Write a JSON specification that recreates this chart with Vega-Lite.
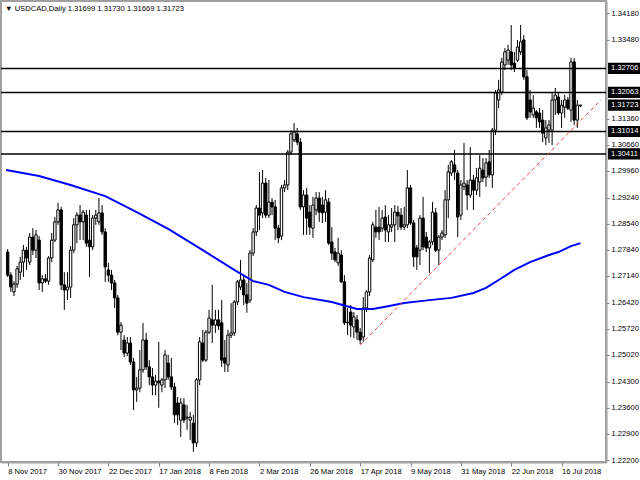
{
"$schema": "https://vega.github.io/schema/vega-lite/v6.json",
"width": 605, "height": 461,
"autosize": {"type": "none"},
"padding": {"left": 1, "top": 1, "right": 34, "bottom": 18},
"background": "white",
"title": {"text": "▼ USDCAD,Daily  1.31699 1.31730 1.31669 1.31723", "anchor": "start", "frame": "group", "orient": "top", "offset": -12, "fontSize": 7.6, "fontWeight": "normal", "font": "Liberation Sans", "color": "black", "dx": 4, "baseline": "top"},
"config": {"view": {"stroke": "#a0a0a0", "strokeWidth": 2}, "font": "Liberation Sans"},
"datasets": {
"candles": [
{"i":0,"o":1.2778,"h":1.2786,"l":1.2711,"c":1.2716},
{"i":1,"o":1.2716,"h":1.2724,"l":1.2671,"c":1.2684},
{"i":2,"o":1.2671,"h":1.2700,"l":1.2660,"c":1.2692},
{"i":3,"o":1.2692,"h":1.2741,"l":1.2682,"c":1.2733},
{"i":4,"o":1.2724,"h":1.2765,"l":1.2703,"c":1.2751},
{"i":5,"o":1.2751,"h":1.2797,"l":1.2711,"c":1.2783},
{"i":6,"o":1.2783,"h":1.2792,"l":1.2730,"c":1.2762},
{"i":7,"o":1.2751,"h":1.2829,"l":1.2743,"c":1.2818},
{"i":8,"o":1.2818,"h":1.2842,"l":1.2770,"c":1.2783},
{"i":9,"o":1.2783,"h":1.2837,"l":1.2762,"c":1.2824},
{"i":10,"o":1.2810,"h":1.2821,"l":1.2676,"c":1.2695},
{"i":11,"o":1.2695,"h":1.2716,"l":1.2671,"c":1.2706},
{"i":12,"o":1.2706,"h":1.2719,"l":1.2695,"c":1.2700},
{"i":13,"o":1.2700,"h":1.2767,"l":1.2690,"c":1.2762},
{"i":14,"o":1.2762,"h":1.2829,"l":1.2751,"c":1.2810},
{"i":15,"o":1.2810,"h":1.2872,"l":1.2805,"c":1.2859},
{"i":16,"o":1.2859,"h":1.2910,"l":1.2851,"c":1.2891},
{"i":17,"o":1.2891,"h":1.2899,"l":1.2676,"c":1.2690},
{"i":18,"o":1.2690,"h":1.2724,"l":1.2623,"c":1.2676},
{"i":19,"o":1.2676,"h":1.2724,"l":1.2649,"c":1.2684},
{"i":20,"o":1.2684,"h":1.2794,"l":1.2655,"c":1.2783},
{"i":21,"o":1.2783,"h":1.2869,"l":1.2775,"c":1.2851},
{"i":22,"o":1.2851,"h":1.2885,"l":1.2802,"c":1.2877},
{"i":23,"o":1.2877,"h":1.2904,"l":1.2810,"c":1.2859},
{"i":24,"o":1.2859,"h":1.2891,"l":1.2810,"c":1.2885},
{"i":25,"o":1.2877,"h":1.2891,"l":1.2792,"c":1.2802},
{"i":26,"o":1.2810,"h":1.2891,"l":1.2711,"c":1.2792},
{"i":27,"o":1.2792,"h":1.2877,"l":1.2783,"c":1.2869},
{"i":28,"o":1.2869,"h":1.2891,"l":1.2851,"c":1.2877},
{"i":29,"o":1.2859,"h":1.2923,"l":1.2851,"c":1.2883},
{"i":30,"o":1.2883,"h":1.2904,"l":1.2824,"c":1.2832},
{"i":31,"o":1.2832,"h":1.2842,"l":1.2698,"c":1.2738},
{"i":32,"o":1.2730,"h":1.2749,"l":1.2698,"c":1.2716},
{"i":33,"o":1.2716,"h":1.2730,"l":1.2676,"c":1.2695},
{"i":34,"o":1.2695,"h":1.2703,"l":1.2628,"c":1.2655},
{"i":35,"o":1.2655,"h":1.2663,"l":1.2555,"c":1.2563},
{"i":36,"o":1.2563,"h":1.2590,"l":1.2515,"c":1.2582},
{"i":37,"o":1.2542,"h":1.2555,"l":1.2496,"c":1.2507},
{"i":38,"o":1.2507,"h":1.2550,"l":1.2499,"c":1.2534},
{"i":39,"o":1.2534,"h":1.2550,"l":1.2475,"c":1.2483},
{"i":40,"o":1.2483,"h":1.2494,"l":1.2354,"c":1.2408},
{"i":41,"o":1.2408,"h":1.2443,"l":1.2376,"c":1.2413},
{"i":42,"o":1.2413,"h":1.2515,"l":1.2402,"c":1.2462},
{"i":43,"o":1.2462,"h":1.2588,"l":1.2454,"c":1.2542},
{"i":44,"o":1.2542,"h":1.2561,"l":1.2462,"c":1.2470},
{"i":45,"o":1.2470,"h":1.2488,"l":1.2421,"c":1.2443},
{"i":46,"o":1.2443,"h":1.2467,"l":1.2394,"c":1.2421},
{"i":47,"o":1.2421,"h":1.2448,"l":1.2394,"c":1.2432},
{"i":48,"o":1.2432,"h":1.2537,"l":1.2360,"c":1.2427},
{"i":49,"o":1.2421,"h":1.2440,"l":1.2402,"c":1.2435},
{"i":50,"o":1.2435,"h":1.2515,"l":1.2413,"c":1.2502},
{"i":51,"o":1.2480,"h":1.2502,"l":1.2435,"c":1.2443},
{"i":52,"o":1.2443,"h":1.2494,"l":1.2408,"c":1.2416},
{"i":53,"o":1.2416,"h":1.2427,"l":1.2319,"c":1.2341},
{"i":54,"o":1.2373,"h":1.2389,"l":1.2314,"c":1.2341},
{"i":55,"o":1.2327,"h":1.2386,"l":1.2282,"c":1.2373},
{"i":56,"o":1.2368,"h":1.2386,"l":1.2319,"c":1.2327},
{"i":57,"o":1.2333,"h":1.2368,"l":1.2301,"c":1.2335},
{"i":58,"o":1.2327,"h":1.2349,"l":1.2274,"c":1.2335},
{"i":59,"o":1.2319,"h":1.2341,"l":1.2242,"c":1.2266},
{"i":60,"o":1.2266,"h":1.2440,"l":1.2255,"c":1.2435},
{"i":61,"o":1.2435,"h":1.2550,"l":1.2421,"c":1.2537},
{"i":62,"o":1.2534,"h":1.2569,"l":1.2483,"c":1.2488},
{"i":63,"o":1.2488,"h":1.2569,"l":1.2483,"c":1.2563},
{"i":64,"o":1.2563,"h":1.2623,"l":1.2558,"c":1.2601},
{"i":65,"o":1.2596,"h":1.2690,"l":1.2534,"c":1.2582},
{"i":66,"o":1.2582,"h":1.2623,"l":1.2561,"c":1.2596},
{"i":67,"o":1.2596,"h":1.2623,"l":1.2569,"c":1.2580},
{"i":68,"o":1.2588,"h":1.2649,"l":1.2470,"c":1.2488},
{"i":69,"o":1.2494,"h":1.2542,"l":1.2456,"c":1.2480},
{"i":70,"o":1.2475,"h":1.2569,"l":1.2456,"c":1.2555},
{"i":71,"o":1.2555,"h":1.2641,"l":1.2547,"c":1.2561},
{"i":72,"o":1.2561,"h":1.2649,"l":1.2553,"c":1.2644},
{"i":73,"o":1.2644,"h":1.2703,"l":1.2636,"c":1.2698},
{"i":74,"o":1.2684,"h":1.2757,"l":1.2676,"c":1.2703},
{"i":75,"o":1.2703,"h":1.2714,"l":1.2636,"c":1.2663},
{"i":76,"o":1.2663,"h":1.2695,"l":1.2615,"c":1.2641},
{"i":77,"o":1.2649,"h":1.2783,"l":1.2641,"c":1.2775},
{"i":78,"o":1.2775,"h":1.2842,"l":1.2767,"c":1.2832},
{"i":79,"o":1.2832,"h":1.2904,"l":1.2821,"c":1.2896},
{"i":80,"o":1.2896,"h":1.2993,"l":1.2837,"c":1.2877},
{"i":81,"o":1.2883,"h":1.2998,"l":1.2869,"c":1.2963},
{"i":82,"o":1.2963,"h":1.2977,"l":1.2869,"c":1.2877},
{"i":83,"o":1.2877,"h":1.2971,"l":1.2869,"c":1.2912},
{"i":84,"o":1.2912,"h":1.2923,"l":1.2877,"c":1.2899},
{"i":85,"o":1.2899,"h":1.2918,"l":1.2810,"c":1.2842},
{"i":86,"o":1.2842,"h":1.2851,"l":1.2802,"c":1.2816},
{"i":87,"o":1.2821,"h":1.2958,"l":1.2810,"c":1.2950},
{"i":88,"o":1.2950,"h":1.2971,"l":1.2939,"c":1.2958},
{"i":89,"o":1.2958,"h":1.3052,"l":1.2944,"c":1.3046},
{"i":90,"o":1.3046,"h":1.3105,"l":1.3038,"c":1.3095},
{"i":91,"o":1.3079,"h":1.3124,"l":1.3073,"c":1.3100},
{"i":92,"o":1.3095,"h":1.3111,"l":1.3065,"c":1.3073},
{"i":93,"o":1.3073,"h":1.3084,"l":1.2891,"c":1.2899},
{"i":94,"o":1.2899,"h":1.2944,"l":1.2824,"c":1.2931},
{"i":95,"o":1.2931,"h":1.2950,"l":1.2824,"c":1.2869},
{"i":96,"o":1.2885,"h":1.2904,"l":1.2824,"c":1.2845},
{"i":97,"o":1.2842,"h":1.2926,"l":1.2816,"c":1.2904},
{"i":98,"o":1.2891,"h":1.2939,"l":1.2877,"c":1.2923},
{"i":99,"o":1.2923,"h":1.2939,"l":1.2859,"c":1.2885},
{"i":100,"o":1.2904,"h":1.2926,"l":1.2856,"c":1.2883},
{"i":101,"o":1.2885,"h":1.2944,"l":1.2859,"c":1.2918},
{"i":102,"o":1.2912,"h":1.2923,"l":1.2797,"c":1.2802},
{"i":103,"o":1.2805,"h":1.2845,"l":1.2757,"c":1.2775},
{"i":104,"o":1.2778,"h":1.2789,"l":1.2751,"c":1.2757},
{"i":105,"o":1.2749,"h":1.2816,"l":1.2741,"c":1.2775},
{"i":106,"o":1.2770,"h":1.2783,"l":1.2695,"c":1.2698},
{"i":107,"o":1.2698,"h":1.2716,"l":1.2582,"c":1.2588},
{"i":108,"o":1.2588,"h":1.2628,"l":1.2555,"c":1.2590},
{"i":109,"o":1.2617,"h":1.2636,"l":1.2550,"c":1.2582},
{"i":110,"o":1.2577,"h":1.2617,"l":1.2547,"c":1.2604},
{"i":111,"o":1.2596,"h":1.2609,"l":1.2542,"c":1.2563},
{"i":112,"o":1.2563,"h":1.2574,"l":1.2531,"c":1.2542},
{"i":113,"o":1.2550,"h":1.2657,"l":1.2537,"c":1.2628},
{"i":114,"o":1.2628,"h":1.2676,"l":1.2617,"c":1.2671},
{"i":115,"o":1.2671,"h":1.2770,"l":1.2660,"c":1.2762},
{"i":116,"o":1.2757,"h":1.2859,"l":1.2751,"c":1.2851},
{"i":117,"o":1.2845,"h":1.2891,"l":1.2816,"c":1.2832},
{"i":118,"o":1.2845,"h":1.2899,"l":1.2810,"c":1.2832},
{"i":119,"o":1.2842,"h":1.2891,"l":1.2832,"c":1.2869},
{"i":120,"o":1.2872,"h":1.2904,"l":1.2805,"c":1.2837},
{"i":121,"o":1.2832,"h":1.2877,"l":1.2805,"c":1.2851},
{"i":122,"o":1.2845,"h":1.2896,"l":1.2832,"c":1.2851},
{"i":123,"o":1.2851,"h":1.2904,"l":1.2805,"c":1.2885},
{"i":124,"o":1.2885,"h":1.2902,"l":1.2837,"c":1.2875},
{"i":125,"o":1.2877,"h":1.2896,"l":1.2837,"c":1.2845},
{"i":126,"o":1.2845,"h":1.2899,"l":1.2837,"c":1.2851},
{"i":127,"o":1.2851,"h":1.2998,"l":1.2842,"c":1.2950},
{"i":128,"o":1.2950,"h":1.2958,"l":1.2851,"c":1.2856},
{"i":129,"o":1.2856,"h":1.2864,"l":1.2738,"c":1.2765},
{"i":130,"o":1.2789,"h":1.2797,"l":1.2730,"c":1.2765},
{"i":131,"o":1.2783,"h":1.2877,"l":1.2743,"c":1.2869},
{"i":132,"o":1.2869,"h":1.2926,"l":1.2783,"c":1.2792},
{"i":133,"o":1.2818,"h":1.2832,"l":1.2778,"c":1.2789},
{"i":134,"o":1.2789,"h":1.2810,"l":1.2722,"c":1.2805},
{"i":135,"o":1.2805,"h":1.2912,"l":1.2797,"c":1.2885},
{"i":136,"o":1.2883,"h":1.2896,"l":1.2778,"c":1.2783},
{"i":137,"o":1.2783,"h":1.2824,"l":1.2743,"c":1.2818},
{"i":138,"o":1.2818,"h":1.2837,"l":1.2810,"c":1.2829},
{"i":139,"o":1.2824,"h":1.2944,"l":1.2816,"c":1.2918},
{"i":140,"o":1.2918,"h":1.3012,"l":1.2869,"c":1.2993},
{"i":141,"o":1.2990,"h":1.3025,"l":1.2982,"c":1.3020},
{"i":142,"o":1.3012,"h":1.3052,"l":1.2971,"c":1.2993},
{"i":143,"o":1.2990,"h":1.2998,"l":1.2818,"c":1.2872},
{"i":144,"o":1.2877,"h":1.2971,"l":1.2864,"c":1.2958},
{"i":145,"o":1.2953,"h":1.3071,"l":1.2944,"c":1.2963},
{"i":146,"o":1.2958,"h":1.2971,"l":1.2891,"c":1.2931},
{"i":147,"o":1.2931,"h":1.3060,"l":1.2923,"c":1.2971},
{"i":148,"o":1.2971,"h":1.2985,"l":1.2891,"c":1.2944},
{"i":149,"o":1.2944,"h":1.3003,"l":1.2931,"c":1.2977},
{"i":150,"o":1.2966,"h":1.3038,"l":1.2926,"c":1.3003},
{"i":151,"o":1.2998,"h":1.3030,"l":1.2966,"c":1.2977},
{"i":152,"o":1.2979,"h":1.3030,"l":1.2953,"c":1.3017},
{"i":153,"o":1.3020,"h":1.3052,"l":1.2977,"c":1.2985},
{"i":154,"o":1.2985,"h":1.3111,"l":1.2950,"c":1.3105},
{"i":155,"o":1.3105,"h":1.3213,"l":1.3092,"c":1.3205},
{"i":156,"o":1.3186,"h":1.3240,"l":1.3164,"c":1.3213},
{"i":157,"o":1.3207,"h":1.3299,"l":1.3199,"c":1.3288},
{"i":158,"o":1.3280,"h":1.3325,"l":1.3266,"c":1.3315},
{"i":159,"o":1.3293,"h":1.3334,"l":1.3280,"c":1.3320},
{"i":160,"o":1.3315,"h":1.3387,"l":1.3266,"c":1.3280},
{"i":161,"o":1.3285,"h":1.3315,"l":1.3261,"c":1.3272},
{"i":162,"o":1.3293,"h":1.3347,"l":1.3288,"c":1.3328},
{"i":163,"o":1.3315,"h":1.3387,"l":1.3307,"c":1.3342},
{"i":164,"o":1.3347,"h":1.3360,"l":1.3240,"c":1.3248},
{"i":165,"o":1.3248,"h":1.3266,"l":1.3132,"c":1.3138},
{"i":166,"o":1.3186,"h":1.3213,"l":1.3138,"c":1.3154},
{"i":167,"o":1.3146,"h":1.3199,"l":1.3138,"c":1.3164},
{"i":168,"o":1.3154,"h":1.3159,"l":1.3111,"c":1.3138},
{"i":169,"o":1.3151,"h":1.3164,"l":1.3111,"c":1.3127},
{"i":170,"o":1.3132,"h":1.3159,"l":1.3073,"c":1.3097},
{"i":171,"o":1.3084,"h":1.3132,"l":1.3065,"c":1.3111},
{"i":172,"o":1.3105,"h":1.3132,"l":1.3071,"c":1.3119},
{"i":173,"o":1.3105,"h":1.3207,"l":1.3065,"c":1.3186},
{"i":174,"o":1.3186,"h":1.3218,"l":1.3146,"c":1.3199},
{"i":175,"o":1.3194,"h":1.3205,"l":1.3146,"c":1.3151},
{"i":176,"o":1.3151,"h":1.3186,"l":1.3111,"c":1.3172},
{"i":177,"o":1.3167,"h":1.3199,"l":1.3138,"c":1.3186},
{"i":178,"o":1.3186,"h":1.3194,"l":1.3159,"c":1.3164},
{"i":179,"o":1.3159,"h":1.3299,"l":1.3127,"c":1.3288},
{"i":180,"o":1.3288,"h":1.3299,"l":1.3119,"c":1.3132},
{"i":181,"o":1.3132,"h":1.3186,"l":1.3111,"c":1.3172},
{"i":182,"o":1.31699,"h":1.31730,"l":1.31669,"c":1.31723}
],
"ma": [
{"i":-0.5,"v":1.2998},{"i":10,"v":1.2982},{"i":20,"v":1.2958},{"i":31,"v":1.2928},{"i":41,"v":1.2885},{"i":51,"v":1.2840},{"i":62,"v":1.2783},{"i":72,"v":1.2730},{"i":78,"v":1.2700},{"i":83,"v":1.2690},{"i":88,"v":1.2671},{"i":94,"v":1.2657},{"i":103,"v":1.2644},{"i":111,"v":1.2625},{"i":116,"v":1.2625},{"i":120,"v":1.2631},{"i":126,"v":1.2641},{"i":134,"v":1.2649},{"i":141,"v":1.2655},{"i":148,"v":1.2668},{"i":152,"v":1.2682},{"i":156,"v":1.2703},{"i":161,"v":1.2730},{"i":166,"v":1.2751},{"i":172,"v":1.2770},{"i":175,"v":1.2778},{"i":179,"v":1.2794},{"i":182,"v":1.2802}
],
"levels": [{"v":1.32706},{"v":1.32063},{"v":1.31014},{"v":1.30411}],
"tags": [{"v":1.32706},{"v":1.32063},{"v":1.31723},{"v":1.31014},{"v":1.30411}],
"trend": [{"i":112,"v":1.2528},{"i":188.5,"v":1.3186}]
},
"layer": [
{"data": {"name": "candles"},
 "mark": {"type": "rule", "color": "black", "strokeWidth": 1},
 "encoding": {
  "x": {"field": "i", "type": "quantitative", "scale": {"domain": [-0.53, 188.53], "nice": false, "zero": false},
        "axis": {"title": null, "grid": false, "values": [0,16,32,48,64,80,96,112,128,144,160,176], "tickCount": 40,
                 "labelExpr": "['8 Nov 2017','30 Nov 2017','22 Dec 2017','17 Jan 2018','8 Feb 2018','2 Mar 2018','26 Mar 2018','17 Apr 2018','9 May 2018','31 May 2018','22 Jun 2018','16 Jul 2018'][round(datum.value/16)]",
                 "labelAlign": "left", "labelBaseline": "top", "labelFontSize": 7.6, "labelFont": "Liberation Sans", "labelColor": "black", "labelDx": 0,
                 "labelPadding": 1, "tickSize": 4, "tickColor": "#808080", "domainColor": "#a0a0a0", "domainWidth": 2, "labelFlush": false, "labelOverlap": false}},
  "y": {"field": "l", "type": "quantitative", "scale": {"domain": [1.22147, 1.34515], "nice": false, "zero": false},
        "axis": {"title": null, "orient": "right", "grid": false, "tickCount": 40,
                 "values": [1.3418,1.3348,1.3136,1.3066,1.2996,1.2924,1.2854,1.2784,1.2714,1.2642,1.2572,1.2502,1.243,1.236,1.229,1.222],
                 "format": ".5f", "labelFontSize": 7.6, "labelFont": "Liberation Sans", "labelColor": "black", "labelPadding": 2,
                 "tickSize": 3, "tickColor": "#808080", "domainColor": "#a0a0a0", "domainWidth": 2, "labelFlush": false, "labelOverlap": false}},
  "y2": {"field": "h"}
 }},
{"data": {"name": "candles"},
 "mark": {"type": "bar", "size": 2.4, "stroke": "black", "strokeWidth": 1},
 "encoding": {
  "x": {"field": "i", "type": "quantitative"},
  "y": {"field": "o", "type": "quantitative"},
  "y2": {"field": "c"},
  "fill": {"condition": {"test": "datum.c > datum.o", "value": "white"}, "value": "black"}
 }},
{"data": {"name": "ma"},
 "mark": {"type": "line", "color": "#0000ff", "strokeWidth": 2},
 "encoding": {
  "x": {"field": "i", "type": "quantitative"},
  "y": {"field": "v", "type": "quantitative"}
 }},
{"data": {"name": "levels"},
 "mark": {"type": "rule", "color": "black", "strokeWidth": 1.5},
 "encoding": {"y": {"field": "v", "type": "quantitative"}}},
{"data": {"name": "trend"},
 "mark": {"type": "line", "color": "#f04040", "strokeWidth": 1, "strokeDash": [4, 3]},
 "encoding": {
  "x": {"field": "i", "type": "quantitative"},
  "y": {"field": "v", "type": "quantitative"}
 }},
{"data": {"name": "tags"},
 "mark": {"type": "point", "shape": "M0.12,-0.33H2.2V0.33H0.12Z", "filled": true, "fill": "black", "strokeWidth": 0, "opacity": 1, "size": 1156},
 "encoding": {
  "x": {"value": "width"},
  "y": {"field": "v", "type": "quantitative"}
 }},
{"data": {"name": "tags"},
 "mark": {"type": "text", "color": "white", "align": "left", "baseline": "middle", "dx": 5, "fontSize": 7.6, "font": "Liberation Sans"},
 "encoding": {
  "x": {"value": "width"},
  "y": {"field": "v", "type": "quantitative"},
  "text": {"field": "v", "type": "quantitative", "format": ".5f"}
 }}
]
}
